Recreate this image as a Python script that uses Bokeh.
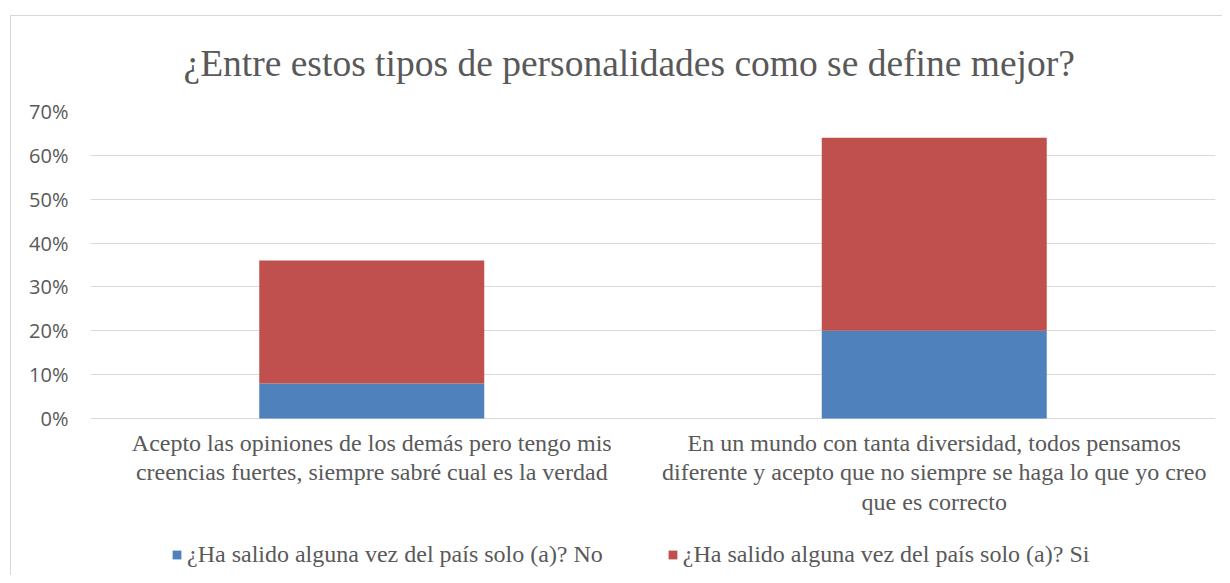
from bokeh.plotting import figure
from bokeh.models import (FactorRange, Range1d, NumeralTickFormatter, FixedTicker,
                          Legend, LegendItem, ColumnDataSource, Title)
from bokeh.core.properties import value
from bokeh.embed import file_html
from bokeh.resources import INLINE

# ---- data ----
categories = [
    "Acepto las opiniones de los demás pero tengo mis\ncreencias fuertes, siempre sabré cual es la verdad",
    "En un mundo con tanta diversidad, todos pensamos\ndiferente y acepto que no siempre se haga lo que yo creo\nque es correcto",
]
series_names = ["¿Ha salido alguna vez del país solo (a)? No",
                "¿Ha salido alguna vez del país solo (a)? Si"]
no_values = [0.08, 0.20]
si_values = [0.28, 0.44]
y_ticks = [0.0, 0.1, 0.2, 0.3, 0.4, 0.5, 0.6, 0.7]
colors = ["#4F81BD", "#C0504D"]
title_text = "¿Entre estos tipos de personalidades como se define mejor?"

TEXT = "#595959"
GRID = "#d9d9d9"

# ---- layout (pixels) ----
W, H = 1222, 575
FRAME_L, FRAME_R, FRAME_T = 90, 1215, 111
ZERO_PX = 418                      # pixel row of the 0% line
px_per_unit = (ZERO_PX - FRAME_T) / max(y_ticks)
y_start = -(H - ZERO_PX) / px_per_unit

source = ColumnDataSource(dict(cat=categories, no=no_values, si=si_values))
label_src = ColumnDataSource(dict(cat=categories, base=[0.0] * len(categories)))

p = figure(width=W, height=H, x_range=FactorRange(*categories, range_padding=0),
           y_range=Range1d(y_start, max(y_ticks)), output_backend="svg",
           toolbar_location=None,
           min_border_left=FRAME_L, min_border_right=W - FRAME_R,
           min_border_top=FRAME_T, min_border_bottom=0)

p.title = Title(text=title_text, align="left", offset=93,
                text_font="Liberation Serif", text_font_size="37.5px",
                text_font_style="normal", text_color=TEXT, standoff=55)

rs = p.vbar_stack(["no", "si"], x="cat", width=0.4, color=colors, line_color=None,
                  source=source)

# category labels under the 0% line
p.text(x="cat", y="base", text="cat", source=label_src, text_align="center",
       text_baseline="top", y_offset=11, text_font=value("Liberation Serif"),
       text_font_size="24px", text_color=TEXT, text_line_height=1.14)

p.outline_line_color = None
p.background_fill_color = "white"
p.border_fill_color = None
p.styles = {
    "background": ("linear-gradient(#d9d9d9,#d9d9d9) 10px 15px / 1px 3000px no-repeat, "
                   "linear-gradient(#d9d9d9,#d9d9d9) 10px 15px / 3000px 1px no-repeat, white")
}

p.xgrid.grid_line_color = None
p.ygrid.grid_line_color = GRID
p.ygrid.grid_line_width = 1.2

p.xaxis.visible = False

p.yaxis.ticker = FixedTicker(ticks=y_ticks)
p.yaxis.formatter = NumeralTickFormatter(format="0%")
p.yaxis.axis_line_color = None
p.yaxis.major_tick_line_color = None
p.yaxis.minor_tick_line_color = None
p.yaxis.major_label_text_font = "Open Sans"
p.yaxis.major_label_text_font_size = "20px"
p.yaxis.major_label_text_color = TEXT
p.yaxis.major_label_standoff = 16

legend = Legend(items=[LegendItem(label=series_names[0], renderers=[rs[0]]),
                       LegendItem(label=series_names[1], renderers=[rs[1]])],
                orientation="horizontal", location=(81, 7),
                label_text_font="Liberation Serif", label_text_font_size="24px",
                label_text_color=TEXT, glyph_width=11, glyph_height=11,
                label_standoff=5, spacing=64, border_line_color=None,
                background_fill_alpha=0, padding=0, margin=0)
p.add_layout(legend)

open("out.html", "w").write(file_html(p, INLINE))
